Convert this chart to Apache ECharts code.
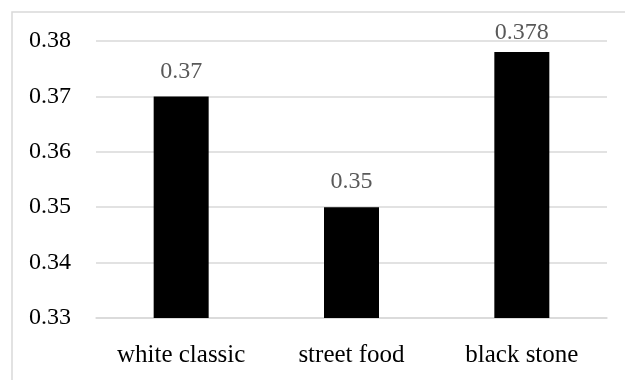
<!DOCTYPE html>
<html>
<head>
<meta charset="utf-8">
<script src="https://cdn.jsdelivr.net/npm/echarts@6/dist/echarts.min.js"></script>
<style>
  html, body { margin: 0; padding: 0; background: #fff; }
  #chart { width: 625px; height: 380px; }
</style>
</head>
<body>
<div id="chart"></div>
<script>
// Category names and their measured values
const categories = ['white classic', 'street food', 'black stone'];
const values = [0.37, 0.35, 0.378];

// Value axis range
const yMin = 0.33;
const yMax = 0.38;
const yStep = 0.01;

const serif = '"Liberation Serif", "DejaVu Serif", serif';

// Labels on bars that reach close to the top are nudged down so they stay inside the frame
const barData = values.map(v => ({
  value: v,
  label: (yMax - v) < 0.005 ? { offset: [0, 6] } : {}
}));

const chart = echarts.init(document.getElementById('chart'), null, { renderer: 'canvas' });
chart.setOption({
  animation: false,
  backgroundColor: '#ffffff',
  graphic: [{
    type: 'rect',
    shape: { x: 12, y: 12, width: 700, height: 500 },
    style: { fill: 'none', stroke: '#d9d9d9', lineWidth: 1.5 },
    silent: true
  }],
  grid: { left: 96, right: 18, top: 41, bottom: 62 },
  xAxis: {
    type: 'category',
    data: categories,
    axisLine: { show: true, lineStyle: { color: '#d9d9d9', width: 1.5 } },
    axisTick: { show: false },
    axisLabel: { color: '#000', fontFamily: serif, fontSize: 25, margin: 25 }
  },
  yAxis: {
    type: 'value',
    min: yMin,
    max: yMax,
    interval: yStep,
    axisLine: { show: false },
    axisTick: { show: false },
    splitLine: { lineStyle: { color: '#d9d9d9', width: 1.5 } },
    axisLabel: {
      color: '#000',
      fontFamily: serif,
      fontSize: 24,
      margin: 25,
      formatter: v => String(+v.toFixed(3))
    }
  },
  series: [{
    type: 'bar',
    data: barData,
    barWidth: 55,
    itemStyle: { color: '#000000' },
    label: {
      show: true,
      position: 'top',
      distance: 13,
      color: '#595959',
      fontFamily: serif,
      fontSize: 24,
      formatter: p => String(p.value)
    }
  }]
});
</script>
</body>
</html>
